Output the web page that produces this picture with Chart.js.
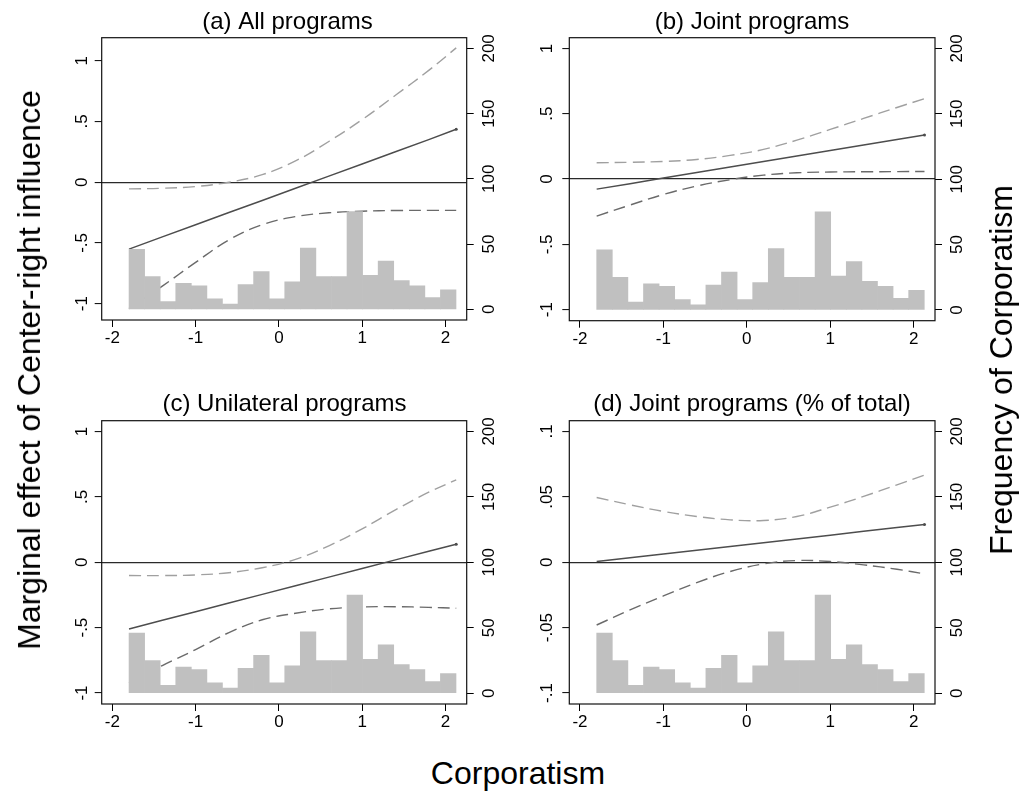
<!DOCTYPE html>
<html>
<head>
<meta charset="utf-8">
<script src="https://cdn.jsdelivr.net/npm/chart.js@4.4.1/dist/chart.umd.min.js"></script>
<style>
  body { margin: 0; background: #fff; }
  #fig { position: relative; width: 1022px; height: 793px; overflow: hidden; font-family: "Liberation Sans", Arial, sans-serif; }
  canvas { position: absolute; }
  .lbl { position: absolute; font-size: 32px; line-height: 32px; white-space: nowrap; color: #000; }
</style>
</head>
<body>
<div id="fig">
  <canvas id="panelA" width="495" height="360" style="left:40px;top:0px"></canvas>
  <canvas id="panelB" width="488" height="360" style="left:508px;top:0px"></canvas>
  <canvas id="panelC" width="489" height="360" style="left:40px;top:383px"></canvas>
  <canvas id="panelD" width="488" height="360" style="left:508px;top:383px"></canvas>
  <div class="lbl" style="left:29px;top:370px;transform:translate(-50%,-50%) rotate(-90deg)">Marginal effect of Center-right influence</div>
  <div class="lbl" style="left:1001px;top:370px;transform:translate(-50%,-50%) rotate(-90deg)">Frequency of Corporatism</div>
  <div class="lbl" style="left:518px;top:757px;transform:translateX(-50%)">Corporatism</div>
</div>
<script>
// corporatism values where the effect lines were read
const corpGrid = [-1.8, -1.4, -1.0, -0.6, -0.2, 0.2, 0.6, 1.0, 1.4, 1.8, 2.13];

// (a) All programs
const effectA = [-0.551, -0.45, -0.35, -0.25, -0.15, -0.05, 0.05, 0.15, 0.25, 0.35, 0.436];
const upperA = [-0.055, -0.05, -0.036, 0.0, 0.062, 0.175, 0.335, 0.515, 0.715, 0.92, 1.105];
const lowerA = [-1.04, -0.855, -0.66, -0.475, -0.35, -0.283, -0.252, -0.239, -0.233, -0.232, -0.232];

// (b) Joint programs
const effectB = [-0.077, -0.035, 0.008, 0.05, 0.092, 0.134, 0.177, 0.219, 0.261, 0.303, 0.338];
const upperB = [0.125, 0.128, 0.135, 0.15, 0.181, 0.227, 0.298, 0.38, 0.464, 0.548, 0.615];
const lowerB = [-0.283, -0.199, -0.118, -0.053, -0.005, 0.03, 0.048, 0.054, 0.056, 0.057, 0.058];

// (c) Unilateral programs
const effectC = [-0.51, -0.444, -0.378, -0.312, -0.246, -0.18, -0.114, -0.048, 0.018, 0.084, 0.138];
const upperC = [-0.102, -0.102, -0.097, -0.08, -0.042, 0.022, 0.125, 0.255, 0.4, 0.535, 0.63];
const lowerC = [-0.92, -0.79, -0.668, -0.538, -0.44, -0.39, -0.357, -0.342, -0.34, -0.345, -0.352];

// (d) Joint programs (% of total)
const effectD = [0.0005, 0.0034, 0.0063, 0.0092, 0.0121, 0.0149, 0.0178, 0.0207, 0.0236, 0.0265, 0.0289];
const upperD = [0.0495, 0.0439, 0.0388, 0.035, 0.0324, 0.0319, 0.035, 0.0421, 0.0503, 0.0592, 0.0666];
const lowerD = [-0.048, -0.0365, -0.0258, -0.0156, -0.0071, -0.0013, 0.0013, 0.0005, -0.002, -0.0054, -0.0089];

// histogram of corporatism (bin centres and counts)
const binCenters = [-1.706, -1.519, -1.332, -1.145, -0.958, -0.771, -0.584, -0.397, -0.210, -0.023,
  0.164, 0.351, 0.538, 0.725, 0.912, 1.099, 1.286, 1.473, 1.660, 1.847, 2.034];
const binCounts = [46, 25, 6, 20, 18, 8, 4, 19, 29, 8, 21, 47, 25, 25, 75, 26, 37, 22, 18, 9, 15];

const xTicks = [-2, -1, 0, 1, 2];
const effectTicks = [-1, -0.5, 0, 0.5, 1];
const shareTicks = [-0.1, -0.05, 0, 0.05, 0.1];
const freqTicks = [0, 50, 100, 150, 200];

Chart.defaults.font.family = "'Liberation Sans', Arial, sans-serif";
Chart.defaults.color = "#000";

function fmt(v) {
  return String(v).replace(/^(-?)0\./, "$1.");
}

function pts(ys) {
  return corpGrid.map((x, i) => ({ x: x, y: ys[i] }));
}

const framePlugin = {
  id: "frame",
  afterDraw(chart) {
    const a = chart.chartArea;
    const ctx = chart.ctx;
    ctx.save();
    ctx.strokeStyle = "#111";
    ctx.lineWidth = 1.2;
    ctx.strokeRect(a.left, a.top, a.right - a.left, a.bottom - a.top);
    ctx.restore();
  },
};

function makePanel(p) {
  const last = corpGrid.length - 1;
  return new Chart(document.getElementById(p.id), {
    type: "line",
    data: {
      datasets: [
        {
          type: "bar",
          data: binCenters.map((x, i) => ({ x: x, y: binCounts[i] })),
          yAxisID: "y2",
          backgroundColor: "#c0c0c0",
          borderWidth: 0,
          barPercentage: 1,
          categoryPercentage: 1,
          order: 0,
        },
        {
          data: pts(p.upper),
          borderColor: "#a0a0a0",
          borderWidth: 1.4,
          borderDash: [12, 6],
          pointRadius: 0,
          tension: 0.4,
          order: 1,
        },
        {
          data: pts(p.lower),
          borderColor: "#6a6a6a",
          borderWidth: 1.4,
          borderDash: [12, 6],
          pointRadius: 0,
          tension: 0.4,
          order: 1,
        },
        {
          data: pts(p.effect),
          borderColor: "#4d4d4d",
          backgroundColor: "#4d4d4d",
          borderWidth: 1.5,
          pointRadius: (c) => (c.dataIndex === last ? 1.5 : 0),
          pointBorderWidth: 0,
          tension: 0,
          order: 1,
        },
      ],
    },
    options: {
      responsive: false,
      animation: false,
      devicePixelRatio: 1,
      events: [],
      layout: { padding: 0 },
      plugins: {
        legend: { display: false },
        tooltip: { enabled: false },
        title: {
          display: true,
          text: p.title,
          font: { size: 24, weight: "normal" },
          color: "#000",
          padding: p.titlePad,
        },
      },
      scales: {
        x: {
          type: "linear",
          min: -2.128,
          max: 2.256,
          offset: false,
          afterBuildTicks: (s) => { s.ticks = xTicks.map((v) => ({ value: v })); },
          afterFit: (s) => { s.height = p.xH; },
          grid: { offset: false, drawOnChartArea: false, tickLength: 7, tickColor: "#000", tickWidth: 1 },
          border: { display: false },
          ticks: { font: { size: 17 }, padding: 1, maxRotation: 0, callback: (v) => fmt(v) },
        },
        y: {
          type: "linear",
          position: "left",
          min: p.yMin,
          max: p.yMax,
          afterBuildTicks: (s) => { s.ticks = p.yTicks.map((v) => ({ value: v })); },
          afterFit: (s) => { s.width = p.leftW; },
          grid: {
            color: (c) => (c.tick && c.tick.value === 0 ? "#2a2a2a" : "rgba(0,0,0,0)"),
            lineWidth: 1.2,
            tickLength: 7,
            tickColor: "#000",
            tickWidth: 1,
          },
          border: { display: false },
          ticks: {
            minRotation: 90,
            maxRotation: 90,
            crossAlign: "center",
            padding: p.leftPad,
            font: { size: 17 },
            callback: (v) => fmt(v),
          },
        },
        y2: {
          type: "linear",
          position: "right",
          min: -8.2,
          max: 208.2,
          afterBuildTicks: (s) => { s.ticks = freqTicks.map((v) => ({ value: v })); },
          afterFit: (s) => { s.width = p.rightW; },
          grid: { drawOnChartArea: false, tickLength: 7, tickColor: "#000", tickWidth: 1 },
          border: { display: false },
          ticks: {
            minRotation: 90,
            maxRotation: 90,
            crossAlign: "center",
            padding: 1,
            font: { size: 17 },
            callback: (v) => fmt(v),
          },
        },
      },
    },
    plugins: [framePlugin],
  });
}

makePanel({
  id: "panelA", title: "(a) All programs",
  effect: effectA, upper: upperA, lower: lowerA,
  yMin: -1.134, yMax: 1.189, yTicks: effectTicks,
  leftW: 61.7, rightW: 68.3, xH: 40, leftPad: 2.3,
  titlePad: { top: 7.6, bottom: 1.3 },
});
makePanel({
  id: "panelB", title: "(b) Joint programs",
  effect: effectB, upper: upperB, lower: lowerB,
  yMin: -1.084, yMax: 1.082, yTicks: effectTicks,
  leftW: 61.3, rightW: 61, xH: 39.3, leftPad: 4.9,
  titlePad: { top: 7.6, bottom: 1.3 },
});
makePanel({
  id: "panelC", title: "(c) Unilateral programs",
  effect: effectC, upper: upperC, lower: lowerC,
  yMin: -1.084, yMax: 1.082, yTicks: effectTicks,
  leftW: 61.7, rightW: 62.3, xH: 39, leftPad: 2.3,
  titlePad: { top: 6.6, bottom: 2.3 },
});
makePanel({
  id: "panelD", title: "(d) Joint programs (% of total)",
  effect: effectD, upper: upperD, lower: lowerD,
  yMin: -0.1084, yMax: 0.1082, yTicks: shareTicks,
  leftW: 61.3, rightW: 61, xH: 39, leftPad: 0.4,
  titlePad: { top: 6.6, bottom: 2.3 },
});
</script>
</body>
</html>
